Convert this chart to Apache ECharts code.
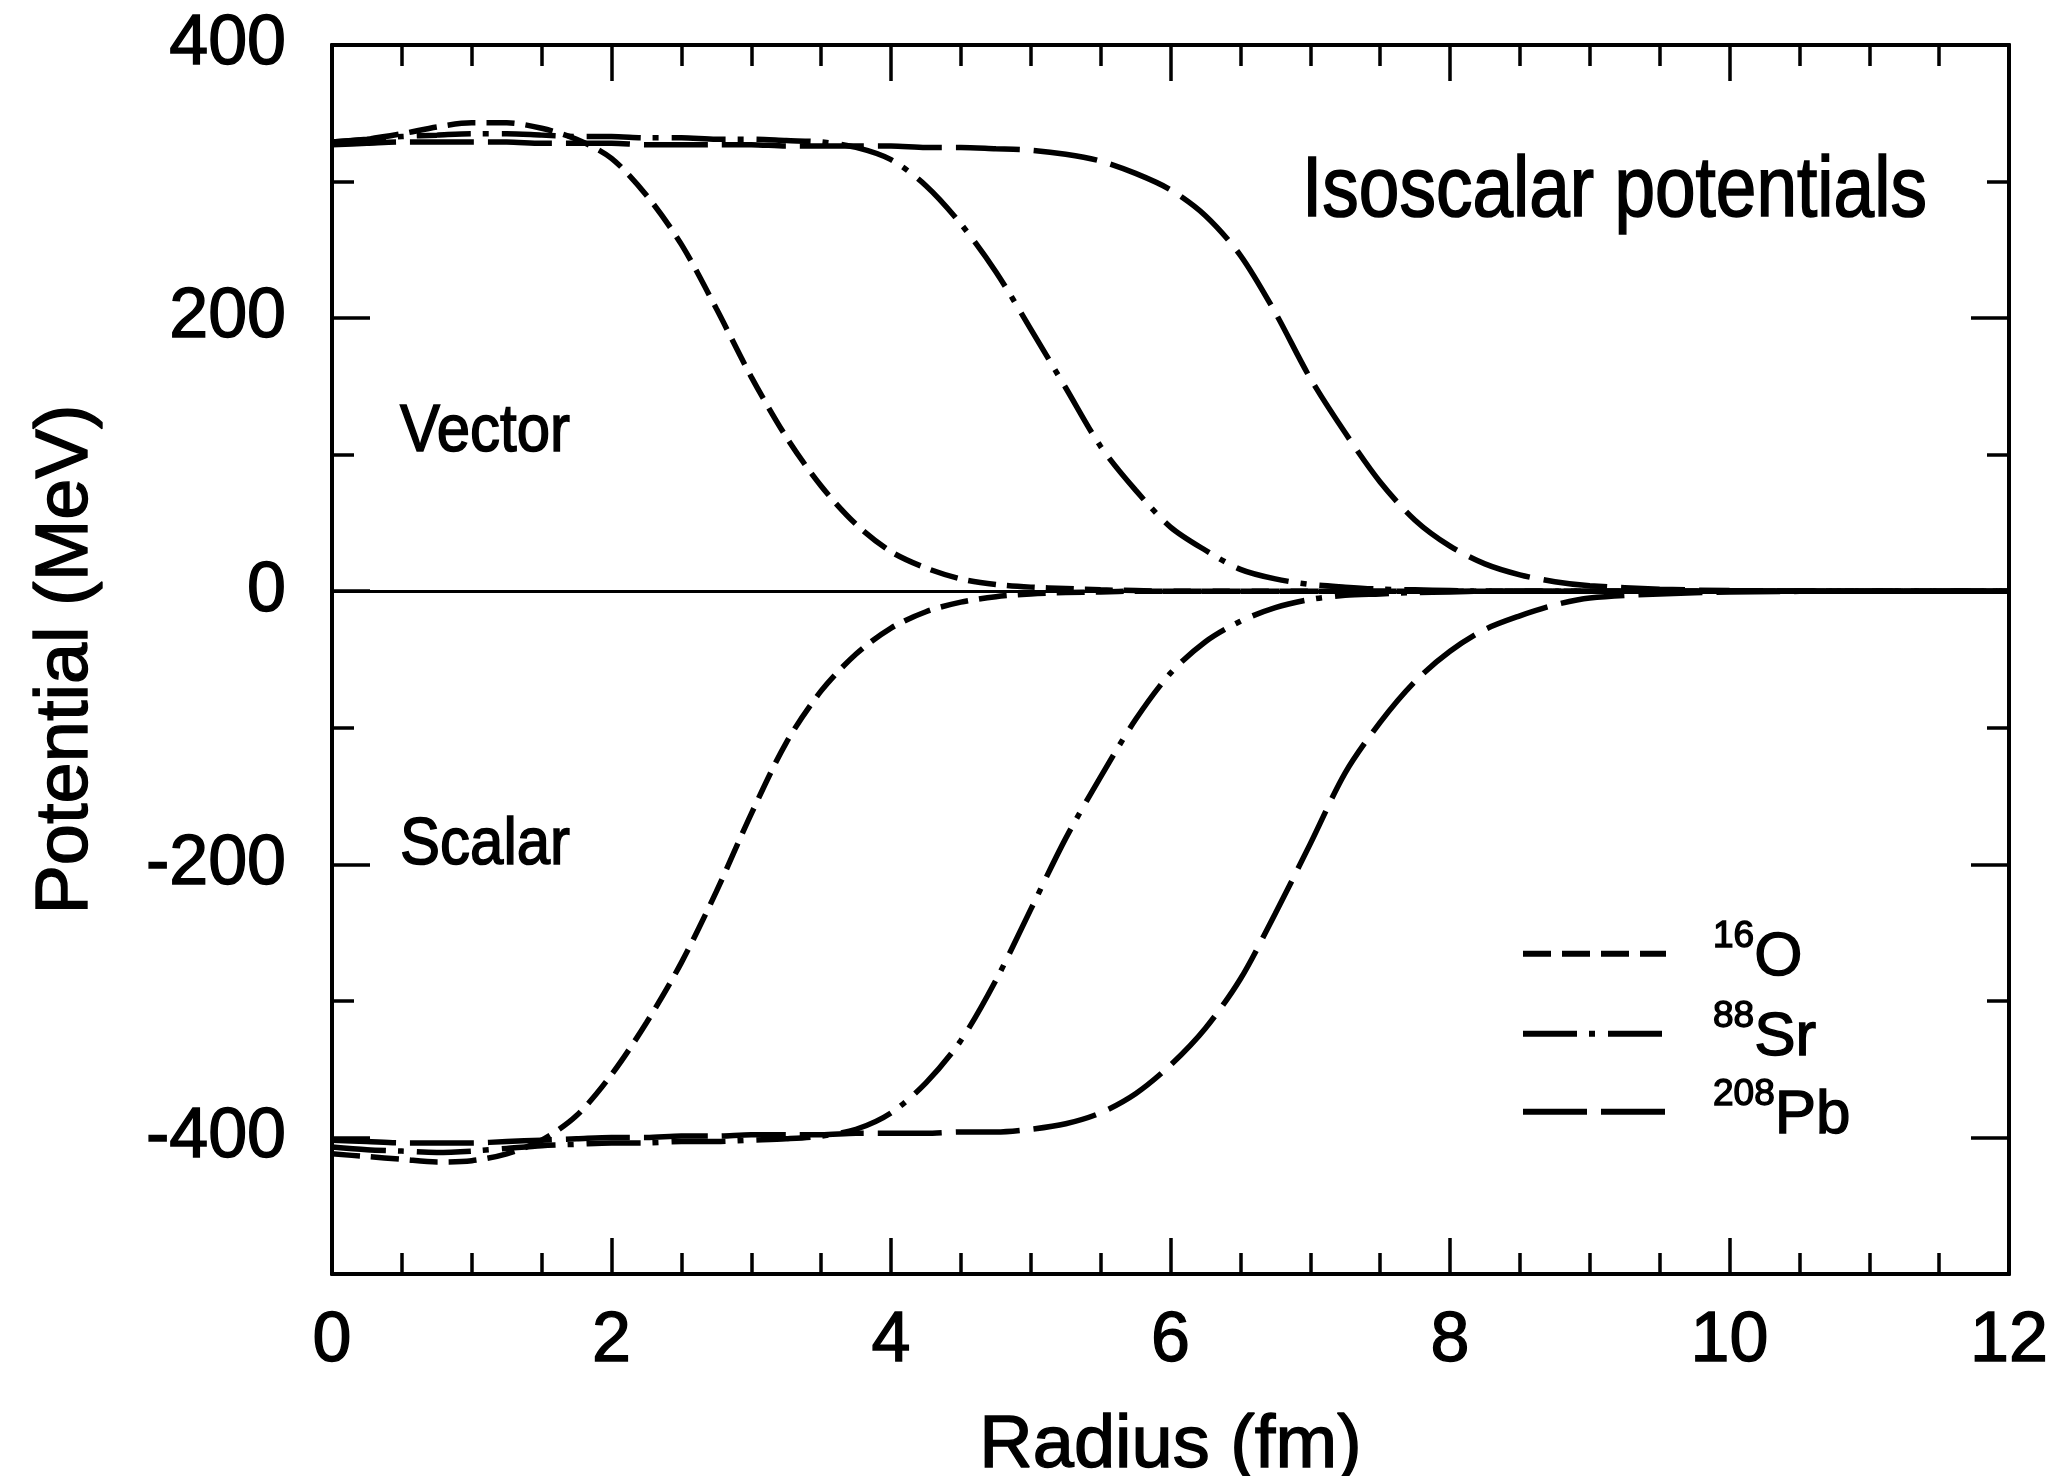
<!DOCTYPE html>
<html>
<head>
<meta charset="utf-8">
<title>Isoscalar potentials</title>
<script src="https://cdn.jsdelivr.net/npm/echarts@6/dist/echarts.min.js"></script>
<style>
  html, body { margin: 0; padding: 0; background: #ffffff; }
  #chart { width: 2059px; height: 1476px; }
</style>
</head>
<body>
<div id="chart"></div>
<script>
// Radial grid (fm) shared by every curve
const radius = [0, 0.25, 0.5, 0.75, 1, 1.25, 1.5, 1.75, 2, 2.25, 2.5, 2.75, 3, 3.25, 3.5, 3.75,
  4, 4.25, 4.5, 4.75, 5, 5.25, 5.5, 5.75, 6, 6.25, 6.5, 6.75, 7, 7.25, 7.5, 7.75,
  8, 8.25, 8.5, 8.75, 9, 9.5, 10, 11, 12];

// Vector potentials (MeV)
const o16Vector = [329, 331, 335, 340, 343, 343, 339, 331, 317, 290,
  254, 207, 157, 113, 77, 49, 29, 17, 9, 5,
  3, 2, 1, 0.5, 0, 0, 0, 0, 0, 0,
  0, 0, 0, 0, 0, 0, 0, 0, 0, 0, 0];
const sr88Vector = [329, 331, 333, 334, 335, 335, 334, 333, 333, 332,
  332, 331, 331, 330, 329, 325, 316, 297, 269, 234,
  192, 149, 106, 74, 47, 30, 16, 9, 5, 3,
  1.5, 1, 0.5, 0, 0, 0, 0, 0, 0, 0, 0];
const pb208Vector = [327, 328, 329, 329, 329, 329, 328, 328, 328, 327,
  327, 327, 327, 326, 326, 326, 326, 325, 325, 324,
  323, 320, 315, 306, 294, 275, 246, 204, 156, 116,
  80, 52, 33, 20, 12, 7, 4, 1.5, 0.5, 0, 0];

// Scalar potentials (MeV)
const o16Scalar = [-412, -414, -416, -418, -417, -412, -402, -384, -354, -316,
  -272, -220, -163, -111, -73, -46, -27, -15, -8, -4,
  -2, -1, -0.5, 0, 0, 0, 0, 0, 0, 0,
  0, 0, 0, 0, 0, 0, 0, 0, 0, 0, 0];
const sr88Scalar = [-407, -409, -410, -411, -410, -408, -406, -405, -404, -404,
  -403, -403, -402, -401, -399, -394, -382, -360, -329, -285,
  -233, -181, -136, -94, -60, -37, -22, -12, -6, -3,
  -2, -1, -0.5, 0, 0, 0, 0, 0, 0, 0, 0];
const pb208Scalar = [-402, -403, -404, -404, -404, -403, -402, -401, -400, -400,
  -399, -399, -398, -398, -398, -397, -397, -397, -396, -396,
  -394, -390, -382, -368, -347, -320, -284, -236, -185, -133,
  -96, -66, -44, -28, -18, -10, -5, -2, -0.5, 0, 0];

// Nuclei shown in the legend
const nuclides = ['16O', '88Sr', '208Pb'];
const massNumbers = ['16', '88', '208'];
const elements = ['O', 'Sr', 'Pb'];

// Axis ticks and labels
const yLabelValues = [-400, -200, 0, 200, 400];
const yMinorValues = [-300, -100, 100, 300];

// ---- styling ----
const FONT = "'Liberation Sans', Arial, Helvetica, sans-serif";
const INK = '#000000';
const HEAVY = { textBorderColor: INK, textBorderWidth: 1.4 };
const dashes = {
  '16O': [28, 11],
  '88Sr': [54, 12, 6, 13],
  '208Pb': [64, 14]
};
const legendCenters = [953, 1033, 1111];

function curve(name, values, withZeroLine) {
  const s = {
    name: name,
    type: 'line',
    xAxisIndex: 0,
    yAxisIndex: 0,
    data: radius.map((r, i) => [r, values[i]]),
    symbol: 'none',
    showSymbol: false,
    smooth: 0.3,
    silent: true,
    z: 3,
    lineStyle: { color: INK, width: 5.5, type: dashes[name], cap: 'butt' },
    itemStyle: { color: INK },
    emphasis: { disabled: true }
  };
  if (withZeroLine) {
    s.markLine = {
      silent: true,
      symbol: 'none',
      label: { show: false },
      lineStyle: { type: 'solid', color: INK, width: 3 },
      data: [{ yAxis: 0 }],
      animation: false
    };
  }
  return s;
}

const tickLine = { color: INK, width: 3.5 };
const axisLineStyle = { show: true, onZero: false, lineStyle: { color: INK, width: 4 } };

function xAxisDef(position, withLabels) {
  return {
    type: 'value',
    position: position,
    min: 0,
    max: 12,
    interval: 2,
    axisLine: axisLineStyle,
    axisTick: { show: true, inside: true, length: 36, lineStyle: tickLine },
    minorTick: { show: true, splitNumber: 4, length: 21, lineStyle: tickLine },
    splitLine: { show: false },
    minorSplitLine: { show: false },
    axisLabel: withLabels ? Object.assign({
      show: true, margin: 33, fontSize: 70, color: INK, fontFamily: FONT,
      showMinLabel: true, showMaxLabel: true
    }, HEAVY) : { show: false },
    name: withLabels ? 'Radius (fm)' : '',
    nameLocation: 'middle',
    nameGap: 136,
    nameTextStyle: Object.assign({ fontSize: 74, color: INK, fontFamily: FONT }, HEAVY)
  };
}

function yAxisDef(position, tickValues, tickLength, withLabels) {
  return {
    type: 'value',
    position: position,
    min: -500,
    max: 400,
    interval: 100,
    axisLine: axisLineStyle,
    axisTick: { show: true, inside: true, length: tickLength, customValues: tickValues, lineStyle: tickLine },
    splitLine: { show: false },
    axisLabel: withLabels ? Object.assign({
      show: true, customValues: yLabelValues, margin: 46, fontSize: 70, color: INK, fontFamily: FONT
    }, HEAVY) : { show: false },
    name: withLabels ? 'Potential (MeV)' : '',
    nameLocation: 'middle',
    nameRotate: 90,
    nameGap: 228,
    nameTextStyle: Object.assign({ fontSize: 74, color: INK, fontFamily: FONT }, HEAVY)
  };
}

const legends = nuclides.map((name, i) => ({
  data: [name],
  left: 1520,
  top: legendCenters[i] - 35,
  padding: 0,
  orient: 'horizontal',
  selectedMode: false,
  itemWidth: 143,
  itemHeight: 20,
  lineStyle: { color: INK, width: 6, type: dashes[name], cap: 'butt', opacity: 1 },
  itemStyle: { color: 'rgba(0,0,0,0)', borderWidth: 0, opacity: 0 },
  formatter: () => '{sup|' + massNumbers[i] + '}{el|' + elements[i] + '}',
  textStyle: {
    color: INK,
    fontFamily: FONT,
    padding: [0, 0, 0, 42],
    rich: {
      sup: Object.assign({ fontSize: 37, lineHeight: 38, verticalAlign: 'top', color: INK, fontFamily: FONT }, HEAVY),
      el: Object.assign({ fontSize: 62, lineHeight: 70, verticalAlign: 'bottom', color: INK, fontFamily: FONT }, HEAVY)
    }
  }
}));

function label(text, x, y, size, stretch) {
  return {
    type: 'text',
    x: x,
    y: y,
    scaleY: stretch,
    silent: true,
    style: {
      text: text,
      fontSize: size,
      fontFamily: FONT,
      fill: INK,
      stroke: INK,
      lineWidth: 1.4,
      align: 'left',
      verticalAlign: 'middle',
      textAlign: 'left',
      textVerticalAlign: 'middle'
    }
  };
}

const option = {
  animation: false,
  backgroundColor: '#ffffff',
  grid: { left: 332, right: 50, top: 45, bottom: 202, containLabel: false, outerBoundsMode: 'none' },
  xAxis: [xAxisDef('bottom', true), xAxisDef('top', false)],
  yAxis: [
    yAxisDef('left', yMinorValues, 22, true),
    yAxisDef('left', yLabelValues, 38, false),
    yAxisDef('right', yMinorValues, 22, false),
    yAxisDef('right', yLabelValues, 38, false)
  ],
  legend: legends,
  graphic: [
    label('Isoscalar potentials', 1302, 192, 73, 1.18),
    label('Vector', 400, 432, 60, 1.12),
    label('Scalar', 400, 845, 60, 1.12)
  ],
  series: [
    curve('16O', o16Vector, true),
    curve('16O', o16Scalar, false),
    curve('88Sr', sr88Vector, false),
    curve('88Sr', sr88Scalar, false),
    curve('208Pb', pb208Vector, false),
    curve('208Pb', pb208Scalar, false)
  ]
};

const chart = echarts.init(document.getElementById('chart'), null, { renderer: 'canvas', width: 2059, height: 1476 });
chart.setOption(option);
</script>
</body>
</html>
